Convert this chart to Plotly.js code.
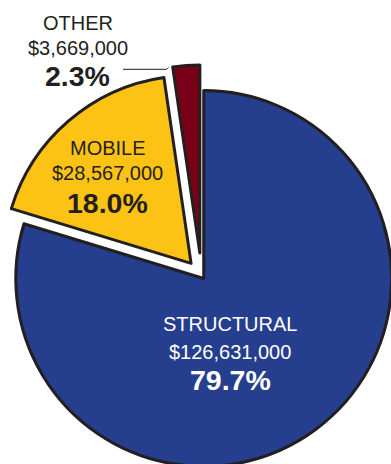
<!DOCTYPE html>
<html>
<head>
<meta charset="utf-8">
<script src="https://cdn.plot.ly/plotly-3.0.1.min.js"></script>
<style>
  html, body { margin: 0; padding: 0; width: 391px; height: 464px; overflow: hidden; background: #fff; }
  #chart { position: absolute; left: -9px; top: 0px; width: 421px; height: 486px; }
</style>
</head>
<body>
<div id="chart"></div>
<script>
// ---- data ----
var categories = ["STRUCTURAL", "MOBILE", "OTHER"];
var amounts = [126631000, 28567000, 3669000];

// ---- styles / layout ----
var sliceColors = ["#253e8e", "#fdc314", "#7a0018"];
var pulls = [0.02, 0.085, 0.12];
var textColors = ["#ffffff", "#231f20", "#231f20"];
// pixel anchors (cap-middle) for the three lines of each label: [x, yName, yAmount, yPct]
var labelPix = [
  [230, 324, 352, 380],
  [108, 147.5, 173, 202.5],
  [77.5, 23, 48, 76.5]
];

var DIV_LEFT = -9, PLOT = 421, TOP = 65;
function px2x(px) { return (px - DIV_LEFT) / PLOT; }
function py2y(py) { return 1 - (py - TOP) / PLOT; }

var total = amounts.reduce(function (a, b) { return a + b; }, 0);
var font = "Liberation Sans, Arial, Helvetica, sans-serif";

var annotations = [];
categories.forEach(function (cat, i) {
  var p = labelPix[i];
  var pct = (amounts[i] / total * 100).toFixed(1) + "%";
  var amt = "$" + amounts[i].toLocaleString("en-US");
  var lines = [
    { t: cat, y: p[1], size: 20, bold: false },
    { t: amt, y: p[2], size: 20, bold: false },
    { t: pct, y: p[3], size: 28.5, bold: true }
  ];
  lines.forEach(function (ln) {
    annotations.push({
      xref: "paper", yref: "paper",
      x: px2x(p[0]), y: py2y(ln.y),
      xanchor: "center", yanchor: "middle",
      text: ln.bold ? "<b>" + ln.t + "</b>" : ln.t,
      showarrow: false,
      font: { family: font, size: ln.size, color: textColors[i] }
    });
  });
});

var trace = {
  type: "pie",
  labels: categories,
  values: amounts,
  sort: false,
  direction: "clockwise",
  rotation: 0,
  pull: pulls,
  textinfo: "none",
  hoverinfo: "none",
  marker: { colors: sliceColors, line: { color: "#231f20", width: 3 } }
};

var layout = {
  width: 421,
  height: 486,
  margin: { l: 0, r: 0, t: TOP, b: 0 },
  paper_bgcolor: "rgba(0,0,0,0)",
  plot_bgcolor: "rgba(0,0,0,0)",
  showlegend: false,
  hovermode: false,
  annotations: annotations,
  shapes: [
    { type: "line", xref: "paper", yref: "paper",
      x0: px2x(123), y0: py2y(69.3), x1: px2x(166.5), y1: py2y(69.3),
      line: { color: "#231f20", width: 1 } },
    { type: "line", xref: "paper", yref: "paper",
      x0: px2x(166.5), y0: py2y(69.3), x1: px2x(168.5), y1: py2y(67.5),
      line: { color: "#231f20", width: 1 } }
  ]
};

Plotly.newPlot("chart", [trace], layout, { displayModeBar: false, staticPlot: true });
</script>
</body>
</html>
